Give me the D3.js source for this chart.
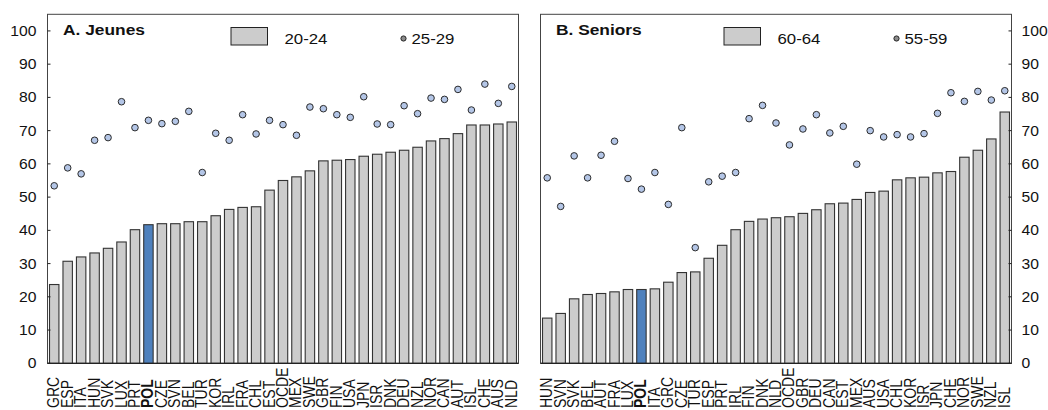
<!DOCTYPE html>
<html><head><meta charset="utf-8">
<script src="https://cdn.jsdelivr.net/npm/d3@7"></script>
<style>
html,body{margin:0;padding:0;background:#fff;}
svg{display:block;font-family:"Liberation Sans",Arial,sans-serif;}
</style></head>
<body>
<svg id="chart" width="1048" height="410"></svg>
<script>
// ---- Data ----
const jeunesCountries = ["GRC","ESP","ITA","HUN","SVK","LUX","PRT","POL","CZE","SVN","BEL","TUR","KOR","IRL","FRA","CHL","EST","OCDE","MEX","SWE","GBR","FIN","USA","JPN","ISR","DNK","DEU","NZL","NOR","CAN","AUT","ISL","CHE","AUS","NLD"];
const jeunes2024 = [23.7,30.7,32.0,33.2,34.6,36.5,40.2,41.7,42.0,42.0,42.6,42.6,44.4,46.3,46.9,47.1,52.1,55.0,56.1,57.9,60.9,61.1,61.3,62.3,62.9,63.5,64.1,65.0,66.9,67.6,69.1,71.7,71.7,72.0,72.6];
const jeunes2529 = [53.4,58.8,57.0,67.1,67.9,78.7,70.9,73.1,72.1,72.8,75.8,57.4,69.2,67.1,74.8,69.0,73.1,71.8,68.6,77.1,76.6,74.8,74.0,80.2,72.0,71.8,77.5,75.1,79.8,79.4,82.4,76.2,84.0,78.2,83.3];

const seniorsCountries = ["HUN","SVN","SVK","BEL","AUT","FRA","LUX","POL","ITA","GRC","CZE","TUR","ESP","PRT","IRL","FIN","DNK","NLD","OCDE","GBR","DEU","CAN","EST","MEX","AUS","USA","CHL","KOR","ISR","JPN","CHE","NOR","SWE","NZL","ISL"];
const seniors6064 = [13.6,15.0,19.4,20.7,21.0,21.5,22.2,22.2,22.4,24.4,27.3,27.5,31.6,35.5,40.2,42.7,43.4,43.8,44.1,45.1,46.2,48.0,48.2,49.3,51.4,51.8,55.2,55.8,56.0,57.3,57.7,62.0,64.1,67.5,75.6];
const seniors5559 = [55.8,47.2,62.4,55.8,62.6,66.8,55.6,52.4,57.4,47.8,70.9,34.8,54.6,56.3,57.4,73.6,77.6,72.3,65.7,70.5,74.8,69.3,71.3,59.9,70.0,68.1,68.8,68.1,69.1,75.2,81.4,78.8,81.8,79.2,82.0];

const yTicks = [0,10,20,30,40,50,60,70,80,90,100];
const highlight = "POL";

// ---- Styles ----
const SX = 1.12; // horizontal text stretch of the reference
const barFill = "#cccccc", barStroke = "#333333", hiFill = "#4f81bd";
const dotFill = "#b4c6e7", dotStroke = "#2b2b2b";

const svg = d3.select("#chart");
const y = d3.scaleLinear().domain([0,105]).range([363.3, 14.3]);

function panel(opt){
  const x = d3.scaleBand().domain(opt.countries).range([opt.x0, opt.x1]).paddingInner(0.3).paddingOuter(0.15);
  const g = svg.append("g");

  g.append("rect").attr("x",opt.x0).attr("y",y(105)).attr("width",opt.x1-opt.x0).attr("height",y(0)-y(105))
    .attr("fill","none").attr("stroke","#444").attr("stroke-width",1);

  g.selectAll("rect.bar").data(opt.countries).join("rect").attr("class","bar")
    .attr("x", d=>x(d)).attr("width", x.bandwidth())
    .attr("y", (d,i)=>y(opt.bars[i])).attr("height",(d,i)=>y(0)-y(opt.bars[i]))
    .attr("fill", d=> d===highlight? hiFill: barFill)
    .attr("stroke", barStroke).attr("stroke-width",1.1);

  g.selectAll("circle.dot").data(opt.countries).join("circle").attr("class","dot")
    .attr("cx", d=>x(d)+x.bandwidth()/2).attr("cy",(d,i)=>y(opt.dots[i]))
    .attr("r",3.3).attr("fill",dotFill).attr("stroke",dotStroke).attr("stroke-width",1);

  g.append("line").attr("x1",opt.x0).attr("x2",opt.x1).attr("y1",y(0)).attr("y2",y(0)).attr("stroke","#222").attr("stroke-width",1.2);

  const ax = opt.right ? opt.x1 : opt.x0;
  const dir = opt.right ? -1 : 1;
  const yg = g.append("g");
  yg.selectAll("line").data(yTicks).join("line")
    .attr("x1",ax).attr("x2",ax+dir*3).attr("y1",d=>y(d)).attr("y2",d=>y(d)).attr("stroke","#222");
  yg.selectAll("text").data(yTicks).join("text")
    .attr("transform", d=>`translate(${opt.right? ax+10 : ax-11},${y(d)+5}) scale(${SX},1)`)
    .attr("text-anchor", opt.right? "start":"end")
    .attr("font-size",14).attr("fill","#111").text(d=>d);

  g.selectAll("text.xl").data(opt.countries).join("text").attr("class","xl")
    .attr("transform", d=>`translate(${x(d)+x.bandwidth()/2+5},408) scale(${SX},1) rotate(-90)`)
    .attr("text-anchor","start").attr("font-size",14).attr("fill","#111")
    .attr("font-weight", d=> d===highlight? "bold":"normal")
    .text(d=>d);

  g.append("text").attr("transform",`translate(${opt.x0+15.5},35) scale(${SX},1)`)
    .attr("font-size",15.5).attr("font-weight","bold").attr("fill","#111").text(opt.title);

  g.append("rect").attr("x",opt.x0+183.5).attr("y",27.5).attr("width",36.5).attr("height",17.5)
    .attr("fill",barFill).attr("stroke","#222").attr("stroke-width",1);
  g.append("text").attr("transform",`translate(${opt.x0+237},43.5) scale(${SX},1)`)
    .attr("font-size",15).attr("fill","#111").text(opt.barLabel);
  g.append("circle").attr("cx",opt.x0+356).attr("cy",38.5).attr("r",2.6)
    .attr("fill","#8c8c8c").attr("stroke","#222").attr("stroke-width",1);
  g.append("text").attr("transform",`translate(${opt.x0+364},43.5) scale(${SX},1)`)
    .attr("font-size",15).attr("fill","#111").text(opt.dotLabel);
}

panel({countries:jeunesCountries, bars:jeunes2024, dots:jeunes2529, x0:47.5, x1:518.5, right:false,
  title:"A. Jeunes", barLabel:"20-24", dotLabel:"25-29"});
panel({countries:seniorsCountries, bars:seniors6064, dots:seniors5559, x0:540.5, x1:1011.5, right:true,
  title:"B. Seniors", barLabel:"60-64", dotLabel:"55-59"});
</script>
</body></html>
